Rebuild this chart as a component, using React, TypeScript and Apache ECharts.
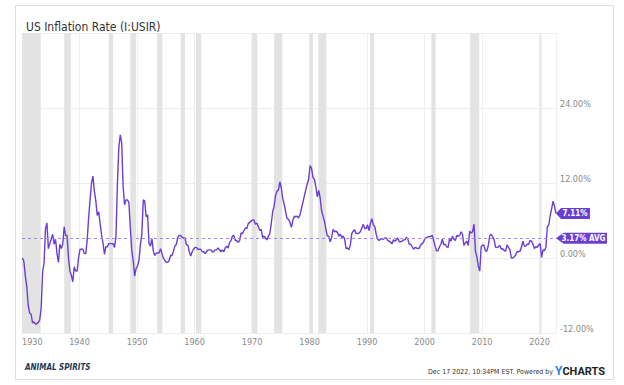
import React, { useEffect, useRef } from "react";
import * as echarts from "echarts";

// Quarterly samples (Feb, May, Aug, Nov) of US inflation rate, %, from 1930 to Nov 2022
const startYear = 1930;
const firstMonth = 2;
const stepMonths = 3;
const inflation: number[] = [
  0.0, -0.6, -2.9, -4.6, // 1930
  -7.6, -8.8, -9.0, -10.4, // 1931
  -10.2, -10.6, -10.5, -10.3, // 1932
  -9.9, -8.0, -2.2, -0.8, // 1933
  4.7, 5.6, 1.5, 2.3, // 1934
  3.0, 3.8, 2.2, 3.0, // 1935
  0.7, -0.7, 2.2, 1.5, // 1936
  2.2, 5.0, 3.6, 3.6, // 1937
  0.0, -2.1, -2.8, -3.8, // 1938
  -1.4, -2.1, -2.1, 0.0, // 1939
  1.4, 1.4, 1.4, 0.7, // 1940
  0.7, 2.9, 6.4, 9.3, // 1941
  12.0, 13.1, 10.7, 9.1, // 1942
  6.8, 7.4, 5.5, 3.7, // 1943
  2.4, 0.6, 1.8, 1.8, // 1944
  2.3, 2.3, 2.3, 2.3, // 1945
  1.7, 3.4, 11.7, 17.7, // 1946
  19.7, 18.4, 11.4, 8.5, // 1947
  9.3, 9.3, 8.9, 4.8, // 1948
  1.3, -0.4, -2.9, -1.7, // 1949
  -1.3, -0.4, 2.1, 3.8, // 1950
  9.3, 9.1, 6.6, 6.9, // 1951
  2.3, 1.9, 3.1, 1.1, // 1952
  0.4, 0.8, 0.8, 0.8, // 1953
  1.5, 0.7, 0.0, -0.4, // 1954
  -0.7, -0.7, -0.4, 0.4, // 1955
  0.4, 1.1, 1.9, 2.2, // 1956
  3.3, 3.6, 3.6, 3.3, // 1957
  3.2, 3.2, 2.1, 2.1, // 1958
  1.0, 0.3, 1.0, 1.4, // 1959
  1.7, 1.7, 1.4, 1.4, // 1960
  1.4, 1.0, 1.0, 0.7, // 1961
  1.0, 1.3, 1.3, 1.3, // 1962
  1.0, 1.0, 1.3, 1.3, // 1963
  1.6, 1.3, 1.0, 1.3, // 1964
  1.0, 1.6, 1.9, 1.6, // 1965
  2.5, 2.8, 3.5, 3.6, // 1966
  2.8, 2.8, 2.5, 2.8, // 1967
  4.0, 3.9, 4.4, 4.8, // 1968
  4.7, 5.5, 5.7, 5.9, // 1969
  6.1, 6.1, 5.4, 5.6, // 1970
  5.0, 4.4, 4.6, 3.3, // 1971
  3.5, 3.2, 2.9, 3.5, // 1972
  3.9, 5.5, 7.4, 8.3, // 1973
  10.0, 10.7, 10.9, 12.2, // 1974
  11.2, 9.5, 8.6, 7.4, // 1975
  6.3, 6.2, 5.7, 4.9, // 1976
  6.0, 6.7, 6.6, 6.7, // 1977
  6.4, 6.9, 7.9, 8.9, // 1978
  9.9, 10.9, 11.8, 12.6, // 1979
  14.8, 14.4, 12.9, 12.6, // 1980
  11.4, 9.8, 10.8, 9.6, // 1981
  7.6, 6.7, 5.9, 4.6, // 1982
  3.5, 3.5, 2.6, 3.3, // 1983
  4.6, 4.2, 4.3, 4.1, // 1984
  3.5, 3.8, 3.3, 3.5, // 1985
  3.1, 1.5, 1.6, 1.3, // 1986
  2.1, 3.9, 4.3, 4.5, // 1987
  3.9, 3.9, 4.0, 4.2, // 1988
  4.8, 5.4, 4.7, 4.7, // 1989
  5.3, 4.4, 5.6, 6.3, // 1990
  5.3, 5.0, 3.8, 3.0, // 1991
  2.8, 3.0, 3.1, 3.0, // 1992
  3.2, 3.2, 2.8, 2.7, // 1993
  2.5, 2.3, 2.9, 2.7, // 1994
  2.9, 3.2, 2.6, 2.6, // 1995
  2.7, 2.9, 2.9, 3.3, // 1996
  3.0, 2.2, 2.2, 1.8, // 1997
  1.4, 1.7, 1.6, 1.5, // 1998
  1.6, 2.1, 2.3, 2.6, // 1999
  3.2, 3.2, 3.4, 3.4, // 2000
  3.5, 3.6, 2.7, 1.9, // 2001
  1.1, 1.2, 1.8, 2.2, // 2002
  3.0, 2.1, 2.2, 1.8, // 2003
  1.7, 3.1, 2.7, 3.5, // 2004
  3.0, 2.8, 3.6, 3.5, // 2005
  3.6, 4.2, 3.8, 2.0, // 2006
  2.4, 2.7, 2.0, 4.3, // 2007
  4.0, 4.2, 5.4, 1.1, // 2008
  0.2, -1.3, -2.1, 1.8, // 2009
  2.1, 2.0, 1.1, 1.1, // 2010
  2.1, 3.6, 3.8, 3.4, // 2011
  2.9, 1.7, 1.7, 1.8, // 2012
  2.0, 1.4, 1.5, 1.2, // 2013
  1.1, 2.1, 1.7, 1.3, // 2014
  0.0, 0.0, 0.2, 0.5, // 2015
  1.0, 1.0, 1.1, 1.7, // 2016
  2.7, 1.9, 1.9, 2.2, // 2017
  2.2, 2.8, 2.7, 2.2, // 2018
  1.5, 1.8, 1.7, 2.1, // 2019
  2.3, 0.1, 1.3, 1.2, // 2020
  1.7, 5.0, 5.3, 6.8, // 2021
  7.9, 9.1, 8.3, 7.11, // 2022
];

const averageRate = 3.17;
const latestLabel = "7.11%";
const averageLabel = "3.17% AVG";

// US recessions (peak month, trough month)
const recessions: [string, string][] = [
  ["1929-08", "1933-03"],
  ["1937-05", "1938-06"],
  ["1945-02", "1945-10"],
  ["1948-11", "1949-10"],
  ["1953-07", "1954-05"],
  ["1957-08", "1958-04"],
  ["1960-04", "1961-02"],
  ["1969-12", "1970-11"],
  ["1973-11", "1975-03"],
  ["1980-01", "1980-07"],
  ["1981-07", "1982-11"],
  ["1990-07", "1991-03"],
  ["2001-03", "2001-11"],
  ["2007-12", "2009-06"],
  ["2020-02", "2020-04"],
];

const xMin = 1930;
const xMax = 2022.84;
const xInterval = 10;
const yMin = -12;
const yMax = 36;
const yInterval = 12;

const title = "US Inflation Rate (I:USIR)";
const footerText = "Dec 17 2022, 10:34PM EST. Powered by";
const brandText = "ANIMAL SPIRITS";

const NARROW =
  "'Liberation Sans Narrow', 'DejaVu Sans Condensed', 'Roboto Condensed', Roboto, sans-serif";

const LINE_COLOR = "#6a3ed3";

function ymToYear(s: string, endOfMonth: boolean): number {
  const [y, m] = s.split("-").map(Number);
  return y + (m - (endOfMonth ? 0 : 1)) / 12;
}

export default function App() {
  const ref = useRef<HTMLDivElement>(null);
  useEffect(() => {
    if (!ref.current) return;
    const chart = echarts.init(ref.current, undefined, { renderer: "svg" });
    const points = inflation.map((v, i) => [
      startYear + (firstMonth - 1) / 12 + (i * stepMonths) / 12,
      v,
    ]);
    const last = points[points.length - 1];
    const areas = recessions.map(([a, b]) => [
      { xAxis: Math.max(ymToYear(a, false), xMin) },
      { xAxis: ymToYear(b, true) },
    ]);
    const tagPath = "path://M0,6 L6,0 L40,0 L40,12 L6,12 Z";
    chart.setOption({
      animation: false,
      backgroundColor: "#ffffff",
      title: {
        text: title,
        left: 21,
        top: 16,
        textStyle: {
          fontSize: 12,
          fontWeight: "normal",
          color: "#333",
          fontFamily: NARROW,
        },
      },
      grid: { left: 22, right: 68, top: 33, bottom: 52 },
      xAxis: {
        type: "value",
        min: xMin,
        max: xMax,
        interval: xInterval,
        axisLine: { show: false },
        axisTick: { show: false },
        splitLine: { show: true, lineStyle: { color: "#efefef", width: 1 } },
        axisLabel: {
          color: "#8a8a8a",
          fontSize: 9,
          fontFamily: NARROW,
          margin: 4,
          showMaxLabel: false,
          alignMinLabel: "left",
          formatter: (v: number) => String(Math.round(v)),
        },
      },
      yAxis: {
        type: "value",
        position: "right",
        min: yMin,
        max: yMax,
        interval: yInterval,
        axisLine: { show: false },
        axisTick: { show: false },
        splitLine: { show: true, lineStyle: { color: "#eeeeee", width: 1 } },
        axisLabel: {
          color: "#8a8a8a",
          fontSize: 9,
          fontFamily: NARROW,
          margin: 4,
          showMaxLabel: false,
          verticalAlign: "bottom",
          lineHeight: 8,
          formatter: (v: number) => v.toFixed(2) + "%",
        },
      },
      series: [
        {
          type: "line",
          data: [],
          z: 1,
          silent: true,
          markArea: {
            silent: true,
            itemStyle: { color: "#e3e3e3" },
            data: areas,
          },
        },
        {
          type: "line",
          data: points,
          z: 3,
          symbol: "none",
          lineStyle: { color: LINE_COLOR, width: 1.4 },
          markLine: {
            silent: true,
            symbol: "none",
            label: { show: false },
            lineStyle: { color: "#a488f2", type: [3, 3], width: 1 },
            data: [{ yAxis: averageRate }],
          },
          markPoint: {
            silent: true,
            symbol: tagPath,
            itemStyle: { color: LINE_COLOR },
            label: {
              show: true,
              position: "inside",
              color: "#fff",
              fontSize: 8,
              fontWeight: "bold",
              fontFamily: NARROW,
              offset: [2, 0],
              formatter: (p: any) => p.name,
            },
            data: [
              {
                name: latestLabel,
                coord: [last[0], last[1]],
                symbolSize: [34, 11],
                symbolOffset: [17, 0],
              },
              {
                name: averageLabel,
                coord: [last[0], averageRate],
                symbolSize: [51, 11],
                symbolOffset: [25.5, 0],
              },
            ],
          },
        },
      ],
      graphic: [
        {
          type: "rect",
          silent: true,
          shape: { x: 15.5, y: 5.5, width: 598, height: 374 },
          style: { fill: "none", stroke: "#dddddd", lineWidth: 1 },
        },
        {
          type: "text",
          x: 25,
          y: 367,
          style: {
            text: brandText,
            fontSize: 8,
            fontWeight: "bold",
            fontStyle: "italic",
            fill: "#1d3a55",
            verticalAlign: "middle",
            fontFamily: NARROW,
          },
        },
        {
          type: "text",
          x: 553,
          y: 372,
          style: {
            text: footerText,
            align: "right",
            verticalAlign: "middle",
            fontSize: 7,
            fill: "#333",
            fontFamily: NARROW,
          },
        },
        {
          type: "text",
          x: 555,
          y: 371,
          style: {
            text: "{y|Y}{c|CHARTS}",
            verticalAlign: "middle",
            rich: {
              y: { fill: "#2d87ea", color: "#2d87ea", fontWeight: "bold", fontSize: 12, fontFamily: "Roboto, sans-serif" },
              c: { fill: "#222", color: "#222", fontWeight: "bold", fontSize: 11, fontFamily: "Roboto, sans-serif" },
            },
          },
        },
      ],
    });
    return () => chart.dispose();
  }, []);
  return (
    <div
      ref={ref}
      style={{
        position: "fixed",
        left: 0,
        top: 0,
        width: 624,
        height: 385,
        background: "#fff",
      }}
    />
  );
}
